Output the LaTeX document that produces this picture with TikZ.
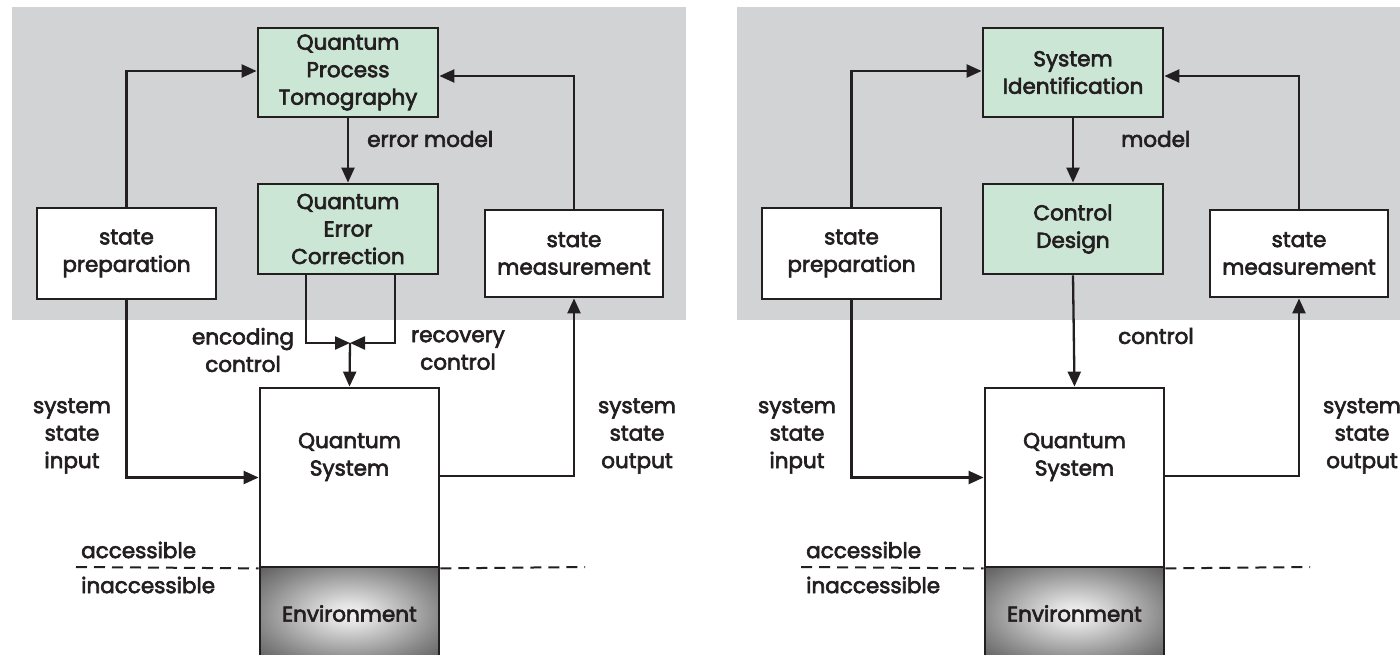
\documentclass[tikz,border=0pt]{standalone}
\usepackage{fontspec}
\setmainfont{Poppins}[FakeBold=3]
\usetikzlibrary{arrows.meta}
\definecolor{bggray}{RGB}{209,211,212}
\definecolor{boxgreen}{RGB}{204,230,214}
\definecolor{ink}{RGB}{35,31,32}
\pgfdeclareradialshading{envshade}{\pgfpoint{0bp}{0bp}}{color(0bp)=(white!96!black); color(6bp)=(white!88!black); color(25bp)=(black!46); color(36bp)=(black!64); color(50bp)=(black!64)}
\begin{document}
\begin{tikzpicture}[x=1pt,y=-1pt,
  font=\fontsize{21.5}{27.5}\selectfont, text=ink,
  box/.style={draw=ink, line width=2.8pt, inner sep=0pt, align=center},
  gbox/.style={box, fill=boxgreen},
  wbox/.style={box, fill=white},
  envbox/.style={box, shading=envshade},
  arr/.style={draw=ink, line width=2.3pt, -{Triangle[length=15pt,width=13pt]}},
  lbl/.style={align=center, inner sep=0pt},
  lline/.style={draw=ink, line width=2pt, dash pattern=on 11pt off 7pt}]
\useasboundingbox (0,0) rectangle (1400,655);
\clip (0,0) rectangle (1400,655);
\fill[bggray] (12,7) rectangle (686,320);
\fill[bggray] (737,7) rectangle (1411,320);

% ---------------- left panel ----------------
\node[gbox, minimum width=180pt, minimum height=89pt] (qpt) at (348,72.5) {Quantum\\Process\\Tomography};
\node[gbox, minimum width=180pt, minimum height=90pt] (qec) at (348,229) {Quantum\\Error\\Correction};
\node[wbox, minimum width=179pt, minimum height=91pt] (prep1) at (126.5,253.5) {state\\preparation};
\node[wbox, minimum width=178pt, minimum height=87pt] (meas1) at (574,253.5) {state\\measurement};
\node[envbox, minimum width=179pt, minimum height=93pt] (env1) at (349.5,613.5) {Environment};
\node[wbox, minimum width=179pt, minimum height=179pt] (qs1) at (349.5,477.5) {};
\node[lbl] (qs1t) at (349.5,457) {Quantum\\System};
\coordinate (j1) at (350,343);

\draw[arr] (prep1.north) |- ([yshift=1.5pt]qpt.west);
\draw[arr] (meas1.north) |- ([yshift=-3.5pt]qpt.east);
\draw[arr] (qpt.south) -- (qec.north);
\draw[arr] ([xshift=-42pt]qec.south) |- (j1);
\draw[arr] ([xshift=47pt]qec.south) |- (j1);
\draw[arr] (j1) -- (qs1.north);
\draw[arr] (prep1.south) |- (qs1.west);
\draw[arr] ([yshift=1.5pt]qs1.east) -| (meas1.south);

\node[lbl, anchor=west] (em) at (367,139) {error model};
\node[lbl] (enc) at (243,350) {encoding\\control};
\node[lbl] (rec) at (458,350) {recovery\\control};
\node[lbl] (ssi1) at (72,436) {system\\state\\input};
\node[lbl] (sso1) at (637,436) {system\\state\\output};
\node[lbl, anchor=west] (acc1) at (81,550) {accessible};
\node[lbl, anchor=west] (inacc1) at (81,585) {inaccessible};
\coordinate (dl1) at (76,567);
\coordinate (dr1) at (585,567);
\draw[lline] (dl1) -- (qs1.south west);
\draw[lline] (qs1.south east) -- (dr1);

% ---------------- right panel ----------------
\begin{scope}[xshift=725pt]
\node[gbox, minimum width=180pt, minimum height=89pt] (si) at (348,72.5) {System\\Identification};
\node[gbox, minimum width=180pt, minimum height=90pt] (cd) at (348,229) {Control\\Design};
\node[wbox, minimum width=179pt, minimum height=91pt] (prep2) at (126.5,253.5) {state\\preparation};
\node[wbox, minimum width=178pt, minimum height=87pt] (meas2) at (574,253.5) {state\\measurement};
\node[envbox, minimum width=179pt, minimum height=93pt] (env2) at (349.5,613.5) {Environment};
\node[wbox, minimum width=179pt, minimum height=179pt] (qs2) at (349.5,477.5) {};
\node[lbl] (qs2t) at (349.5,457) {Quantum\\System};

\draw[arr] (prep2.north) |- ([yshift=1.5pt]si.west);
\draw[arr] (meas2.north) |- ([yshift=-3.5pt]si.east);
\draw[arr] (si.south) -- (cd.north);
\draw[arr] (cd.south) -- (qs2.north);
\draw[arr] (prep2.south) |- (qs2.west);
\draw[arr] ([yshift=1.5pt]qs2.east) -| (meas2.south);

\node[lbl, anchor=west] (mdl) at (396,139) {model};
\node[lbl, anchor=west] (ctl) at (393,336) {control};
\node[lbl] (ssi2) at (72,436) {system\\state\\input};
\node[lbl] (sso2) at (637,436) {system\\state\\output};
\node[lbl, anchor=west] (acc2) at (81,550) {accessible};
\node[lbl, anchor=west] (inacc2) at (81,585) {inaccessible};
\coordinate (dl2) at (76,567);
\coordinate (dr2) at (585,567);
\draw[lline] (dl2) -- (qs2.south west);
\draw[lline] (qs2.south east) -- (dr2);
\end{scope}
\end{tikzpicture}
\end{document}
